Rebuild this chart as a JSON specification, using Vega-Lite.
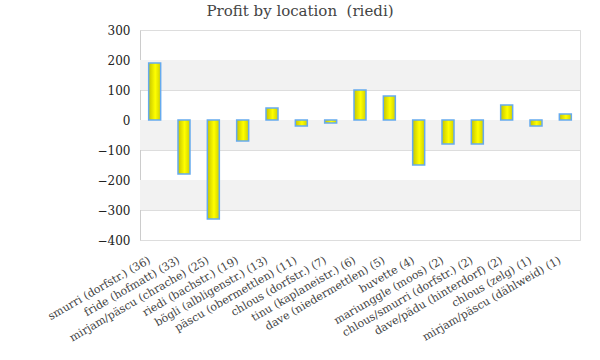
{
  "$schema": "https://vega.github.io/schema/vega-lite/v6.json",
  "autosize": {"type": "none"},
  "width": 440,
  "height": 210,
  "padding": {"left": 140, "top": 30, "right": 20, "bottom": 120},
  "background": "white",
  "config": {
    "view": {"stroke": "#dddddd", "strokeWidth": 1},
    "font": "DejaVu Serif",
    "axisY": {
      "ticks": false,
      "domain": true,
      "domainColor": "#cccccc",
      "gridColor": "#dddddd",
      "labelOverlap": false,
      "labelFont": "DejaVu Serif",
      "labelFontSize": 12,
      "labelColor": "#222222",
      "labelPadding": 10
    }
  },
  "title": {
    "text": "Profit by location \u00a0(riedi)",
    "font": "DejaVu Serif",
    "fontSize": 15,
    "fontWeight": "normal",
    "color": "#444444",
    "anchor": "middle",
    "dx": -60,
    "dy": 18,
    "offset": 8,
    "baseline": "bottom"
  },
  "datasets": {
    "bands": [
      {"lo": 100, "hi": 200},
      {"lo": -100, "hi": 0},
      {"lo": -300, "hi": -200}
    ],
    "profit": [
      {"location": "smurri (dorfstr.) (36)", "profit": 190},
      {"location": "fride (hofmatt) (33)", "profit": -180},
      {"location": "mirjam/päscu (chrache) (25)", "profit": -330},
      {"location": "riedi (bachstr.) (19)", "profit": -70},
      {"location": "bögli (albligenstr.) (13)", "profit": 40},
      {"location": "päscu (obermettlen) (11)", "profit": -20},
      {"location": "chlous (dorfstr.) (7)", "profit": -10},
      {"location": "tinu (kaplaneistr.) (6)", "profit": 100},
      {"location": "dave (niedermettlen) (5)", "profit": 80},
      {"location": "buvette (4)", "profit": -150},
      {"location": "mariunggle (moos) (2)", "profit": -80},
      {"location": "chlous/smurri (dorfstr.) (2)", "profit": -80},
      {"location": "dave/pädu (hinterdorf) (2)", "profit": 50},
      {"location": "chlous (zelg) (1)", "profit": -20},
      {"location": "mirjam/päscu (dählweid) (1)", "profit": 20}
    ]
  },
  "layer": [
    {
      "data": {"name": "bands"},
      "mark": {"type": "rect", "color": "#f2f2f2"},
      "encoding": {
        "y": {
          "field": "lo",
          "type": "quantitative",
          "scale": {"domain": [-400, 300], "nice": false},
          "title": null,
          "axis": {"values": [-400, -300, -200, -100, 0, 100, 200, 300], "format": "d", "labelOverlap": false}
        },
        "y2": {"field": "hi"}
      }
    },
    {
      "data": {"name": "profit"},
      "mark": {
        "type": "bar",
        "size": 12,
        "stroke": "#66aaee",
        "strokeWidth": 1.5,
        "color": {
          "gradient": "linear",
          "x1": 0, "y1": 0, "x2": 1, "y2": 0,
          "stops": [
            {"offset": 0, "color": "#c4c400"},
            {"offset": 0.55, "color": "#ffff00"},
            {"offset": 1, "color": "#d0d000"}
          ]
        }
      },
      "encoding": {
        "x": {
          "field": "location",
          "type": "nominal",
          "sort": null,
          "title": null,
          "axis": {
            "labelAngle": -30,
            "labelAlign": "right",
            "labelBaseline": "top",
            "labelFont": "DejaVu Serif",
            "labelFontSize": 11,
            "labelColor": "#444444",
            "labelPadding": 14,
            "labelOffset": -8,
            "ticks": false,
            "domain": false,
            "labelOverlap": false,
            "labelLimit": 300
          }
        },
        "y": {
          "field": "profit",
          "type": "quantitative",
          "title": null,
          "axis": {"values": [-400, -300, -200, -100, 0, 100, 200, 300], "format": "d", "labelOverlap": false}
        }
      }
    }
  ]
}
